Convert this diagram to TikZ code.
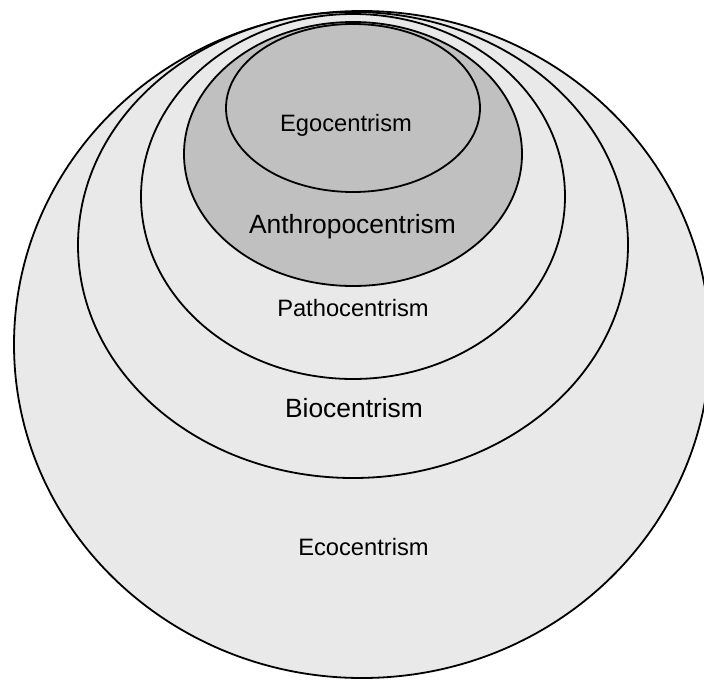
\documentclass[tikz,border=0pt]{standalone}
\usepackage{fontspec}
\setmainfont{Liberation Sans}
\definecolor{ringlight}{HTML}{E9E9E9}
\definecolor{ringdark}{HTML}{C0C0C0}
\begin{document}
\begin{tikzpicture}[x=1pt,y=-1pt,
  ring/.style={draw=black,line width=1.8pt},
  small/.style={font=\fontsize{23.7}{28}\selectfont,inner sep=0pt},
  large/.style={font=\fontsize{26.4}{31}\selectfont,inner sep=0pt}]
\useasboundingbox (0,0) rectangle (704,680);
\clip (0,0) rectangle (704,680);
% nested circles of moral consideration
\filldraw[ring,fill=ringlight] (362,344.5) ellipse [x radius=348, y radius=333.5];
\filldraw[ring,fill=ringlight] (353,245) ellipse [x radius=275, y radius=233];
\filldraw[ring,fill=ringlight] (353,196.5) ellipse [x radius=212, y radius=182.5];
\filldraw[ring,fill=ringdark] (353,154) ellipse [x radius=169, y radius=132];
\filldraw[ring,fill=ringdark] (353,108) ellipse [x radius=127, y radius=84];
% labels
\node[small] (ego) at (346,125) {Egocentrism};
\node[large] (anthro) at (352.5,227) {Anthropocentrism};
\node[small] (patho) at (353,308) {Pathocentrism};
\node[large] (bio) at (354,408) {Biocentrism};
\node[small] (eco) at (363.5,547) {Ecocentrism};
\end{tikzpicture}
\end{document}
